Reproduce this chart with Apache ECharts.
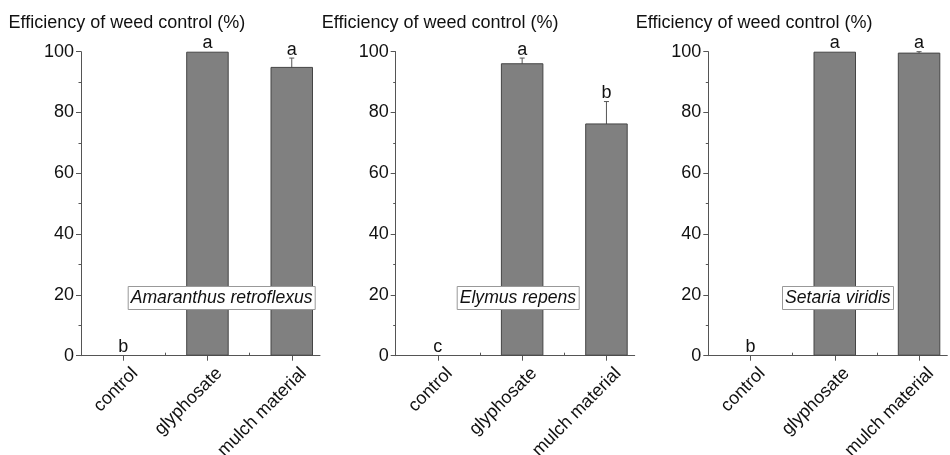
<!DOCTYPE html>
<html><head><meta charset="utf-8">
<script src="https://cdn.jsdelivr.net/npm/echarts@6/dist/echarts.min.js"></script>
<style>html,body{margin:0;padding:0;background:#fff}#c{width:950px;height:455px}</style>
</head><body><div id="c"></div>
<script>
// ---- data ----
const categories = ['control', 'glyphosate', 'mulch material'];
const species = ['Amaranthus retroflexus', 'Elymus repens', 'Setaria viridis'];
const yTitle = 'Efficiency of weed control (%)';
const meansA = [0, 100, 95.0];
const errA = [0, 0, 2.9];
const lettersA = ['b', 'a', 'a'];
const meansE = [0, 96.2, 76.4];
const errE = [0, 1.7, 7.2];
const lettersE = ['c', 'a', 'b'];
const meansS = [0, 100, 99.7];
const errS = [0, 0, 0.3];
const lettersS = ['b', 'a', 'a'];
const yMin = 0, yMax = 100, yStep = 20;

const panels = [
  { means: meansA, err: errA, letters: lettersA, name: species[0] },
  { means: meansE, err: errE, letters: lettersE, name: species[1] },
  { means: meansS, err: errS, letters: lettersS, name: species[2] }
];

// ---- layout ----
const FONT = 'Liberation Sans, Arial, sans-serif';
const gridLefts = [81, 395.7, 708.3];
const titleLefts = [8.5, 321.8, 635.8];
const boxLefts = [127.7, 456.7, 782];
const gridTop = 51.7, gridH = 304, gridW = 239, catPx = 84.3;
const xMin = 0.5, xMax = 0.5 + gridW / catPx;
const labelShift = 0.14;
const axisColor = '#555';
const catIdx = categories.map((c, i) => i + 1);

const grid = [], xAxis = [], yAxis = [], series = [], title = [];
panels.forEach((p, i) => {
  grid.push({ left: gridLefts[i], top: gridTop, width: gridW, height: gridH, containLabel: false, outerBoundsMode: 'none' });
  xAxis.push({
    type: 'value', gridIndex: i, min: xMin, max: xMax,
    axisLine: { show: true, onZero: false, lineStyle: { color: axisColor, width: 1 } },
    axisTick: { show: true, customValues: catIdx, length: 5, lineStyle: { color: axisColor } },
    axisLabel: {
      customValues: catIdx.map(v => v + labelShift),
      formatter: v => categories[Math.round(v) - 1] || '',
      rotate: 45, margin: 15, fontSize: 18, color: '#111', fontFamily: FONT
    },
    splitLine: { show: false }
  });
  xAxis.push({
    type: 'value', gridIndex: i, min: xMin, max: xMax,
    axisLine: { show: false },
    axisTick: { show: true, customValues: catIdx.slice(0, -1).map(v => v + 0.5), length: 3, lineStyle: { color: axisColor } },
    axisLabel: { show: false },
    splitLine: { show: false }
  });
  yAxis.push({
    type: 'value', gridIndex: i, min: yMin, max: yMax, interval: yStep,
    axisLine: { show: true, lineStyle: { color: axisColor, width: 1 } },
    axisTick: { show: true, length: 5, lineStyle: { color: axisColor } },
    minorTick: { show: true, splitNumber: 2, length: 2.5, lineStyle: { color: axisColor } },
    axisLabel: { margin: 7, fontSize: 18, color: '#111', fontFamily: FONT },
    splitLine: { show: false }
  });
  series.push({
    type: 'bar', xAxisIndex: i * 2, yAxisIndex: i,
    data: p.means.map((m, j) => ({
      value: [catIdx[j], m],
      itemStyle: m === 0 ? { borderWidth: 0, opacity: 0 } : undefined
    })),
    barWidth: 42.5,
    itemStyle: { color: '#808080', borderColor: '#454545', borderWidth: 1 },
    silent: true, animation: false
  });
  series.push({
    type: 'custom', xAxisIndex: i * 2, yAxisIndex: i, clip: false,
    data: p.means.map((m, j) => [catIdx[j], m, p.err[j]]),
    renderItem: (params, api) => {
      const x = api.value(0), m = api.value(1), e = api.value(2);
      const top = api.coord([x, m + e]);
      const bot = api.coord([x, m - e]);
      const children = [];
      const ls = { stroke: '#555', lineWidth: 1 };
      if (e > 0) {
        children.push({ type: 'line', shape: { x1: top[0], y1: top[1], x2: bot[0], y2: bot[1] }, style: ls });
        children.push({ type: 'line', shape: { x1: top[0] - 2.5, y1: top[1], x2: top[0] + 2.5, y2: top[1] }, style: ls });
        children.push({ type: 'line', shape: { x1: bot[0] - 2.5, y1: bot[1], x2: bot[0] + 2.5, y2: bot[1] }, style: ls });
      }
      children.push({
        type: 'text',
        style: {
          text: p.letters[params.dataIndex], x: top[0], y: top[1] + 0.5,
          textAlign: 'center', textVerticalAlign: 'bottom',
          fontSize: 18, fontFamily: FONT, fill: '#111'
        }
      });
      return { type: 'group', children };
    },
    silent: true, animation: false
  });
  title.push({
    text: yTitle, left: titleLefts[i], top: 14, padding: 0,
    textStyle: { fontSize: 18, fontWeight: 'normal', color: '#111', fontFamily: FONT, lineHeight: 18 }
  });
  title.push({
    text: p.name, left: boxLefts[i], top: 286, padding: [2, 3, 2, 3],
    borderColor: '#999', borderWidth: 1, backgroundColor: '#fff',
    textStyle: { fontSize: 17.6, fontStyle: 'italic', fontWeight: 'normal', color: '#111', fontFamily: FONT, lineHeight: 20 }
  });
});

const chart = echarts.init(document.getElementById('c'), null, { renderer: 'canvas' });
chart.setOption({ animation: false, backgroundColor: '#fff', title, grid, xAxis, yAxis, series });
</script></body></html>
